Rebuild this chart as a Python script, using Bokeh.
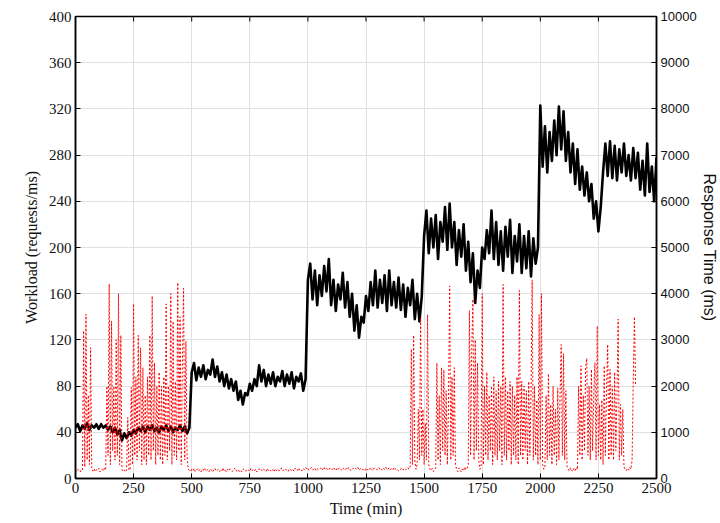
import math
import numpy as np
from bokeh.plotting import figure
from bokeh.models import Range1d, LinearAxis, FixedTicker
from bokeh.embed import file_html
from bokeh.resources import INLINE

# ---------------- data ----------------
x_ticks = [0, 250, 500, 750, 1000, 1250, 1500, 1750, 2000, 2250, 2500]
workload_ticks = [0, 40, 80, 120, 160, 200, 240, 280, 320, 360, 400]
response_ticks = [0, 1000, 2000, 3000, 4000, 5000, 6000, 7000, 8000, 9000, 10000]

# workload (requests/ms), one sample every 10 minutes, t = 0 .. 2500
workload_step_min = 10
workload = [
    44, 47, 41, 46, 43, 48, 42, 46, 44, 47,            # 0
    43, 47, 44, 46, 42, 45, 40, 44, 38, 42,            # 100
    33, 39, 35, 40, 37, 42, 39, 44, 41, 45,            # 200
    40, 45, 42, 46, 41, 44, 40, 45, 42, 46,            # 300
    41, 45, 40, 44, 42, 46, 41, 45, 39, 44,            # 400
    92, 100, 85, 96, 88, 98, 86, 94, 90, 103,          # 500
    88, 97, 84, 92, 80, 90, 78, 86, 76, 84,            # 600
    68, 76, 64, 74, 72, 82, 76, 86, 80, 98,            # 700
    84, 94, 80, 90, 82, 92, 80, 88, 84, 93,            # 800
    80, 90, 82, 92, 78, 88, 84, 91, 76, 86,            # 900
    172, 186, 155, 180, 150, 176, 158, 184, 162, 190,  # 1000
    150, 172, 145, 168, 155, 178, 148, 170, 140, 160,  # 1100
    128, 150, 122, 140, 135, 158, 145, 170, 150, 180,  # 1200
    148, 172, 152, 176, 145, 180, 150, 170, 148, 174,  # 1300
    146, 168, 140, 165, 150, 172, 138, 160, 136, 158,  # 1400
    210, 232, 195, 225, 200, 228, 190, 222, 205, 235,  # 1500
    198, 238, 200, 222, 185, 215, 192, 220, 180, 205,  # 1600
    170, 195, 152, 180, 165, 200, 190, 215, 195, 232,  # 1700
    190, 222, 185, 214, 180, 218, 192, 224, 178, 210,  # 1800
    188, 220, 178, 210, 182, 214, 175, 208, 186, 200,  # 1900
    323, 270, 305, 265, 300, 275, 310, 280, 322, 285,  # 2000
    318, 275, 300, 265, 290, 255, 285, 250, 270, 245,  # 2100
    265, 240, 255, 225, 240, 214, 235, 265, 290, 262,  # 2200
    292, 260, 288, 258, 285, 265, 290, 262, 280, 258,  # 2300
    286, 260, 282, 250, 275, 245, 290, 248, 270, 240,  # 2400
    278,                                               # 2500
]

# response time (ms), one sample every 5 minutes, t = 0 .. 2410
response_step_min = 5
response_ms = [
    180, 150, 200, 170, 140, 190, 180, 3200, 250, 3560,      # 0
    400, 1800, 300, 2830, 200, 160, 210, 150, 190, 170,      # 50
    220, 140, 180, 200, 160, 230, 200, 2000, 500, 4210,      # 100
    300, 3410, 600, 2000, 400, 3000, 500, 4000, 300, 3100,   # 150
    200, 150, 180, 140, 190, 1320, 180, 200, 1970, 300,      # 200
    3780, 500, 2200, 400, 3100, 600, 2830, 300, 2400, 400,   # 250
    1800, 300, 2200, 500, 3100, 400, 3950, 600, 2500, 300,   # 300
    2000, 500, 2300, 400, 2000, 300, 2200, 500, 3780, 400,   # 350
    2000, 600, 4000, 300, 3400, 500, 2100, 400, 4240, 600,   # 400
    3500, 300, 2500, 4120, 400, 2970, 500, 200, 180, 150,    # 450
    200, 170, 220, 150, 180, 210, 160, 190, 140, 200,        # 500
    180, 230, 160, 170, 200, 150, 210, 180, 140, 190,        # 550
    220, 160, 180, 200, 150, 190, 170, 230, 160, 180,        # 600
    140, 200, 170, 210, 180, 150, 190, 220, 160, 170,        # 650
    200, 150, 180, 140, 190, 210, 170, 160, 200, 180,        # 700
    150, 220, 170, 190, 160, 200, 140, 180, 210, 170,        # 750
    190, 160, 200, 180, 150, 220, 170, 190, 160, 200,        # 800
    180, 140, 210, 170, 200, 160, 190, 230, 170, 180,        # 850
    160, 200, 180, 150, 210, 190, 170, 200, 160, 220,        # 900
    190, 170, 230, 180, 200, 160, 210, 190, 240, 200,        # 950
    220, 180, 210, 240, 190, 200, 230, 170, 210, 190,        # 1000
    200, 230, 180, 210, 250, 190, 220, 200, 180, 230,        # 1050
    210, 190, 240, 200, 170, 220, 190, 230, 200, 180,        # 1100
    230, 200, 180, 220, 190, 240, 210, 170, 200, 220,        # 1150
    190, 220, 200, 240, 180, 210, 230, 190, 200, 170,        # 1200
    220, 180, 210, 190, 240, 200, 170, 230, 210, 190,        # 1250
    200, 240, 190, 210, 180, 220, 200, 250, 190, 210,        # 1300
    230, 190, 210, 180, 240, 200, 220, 190, 170, 210,        # 1350
    200, 230, 190, 210, 180, 220, 240, 200, 250, 2800,       # 1400
    300, 3100, 400, 200, 300, 1500, 400, 3480, 500, 1500,    # 1450
    300, 1200, 400, 3550, 300, 200, 170, 220, 150, 190,      # 1500
    230, 2500, 400, 1800, 300, 2400, 600, 2350, 500, 1900,   # 1550
    300, 1600, 4170, 400, 2200, 500, 2400, 300, 200, 150,    # 1600
    230, 180, 140, 210, 170, 250, 190, 220, 300, 3630,       # 1650
    500, 2800, 3880, 400, 3000, 600, 2500, 400, 200, 250,    # 1700
    4000, 300, 2000, 500, 2300, 400, 1800, 600, 2000, 300,   # 1750
    2200, 500, 1900, 400, 2100, 600, 2000, 300, 4200, 500,   # 1800
    2200, 400, 1900, 600, 2100, 300, 2000, 500, 1800, 400,   # 1850
    2200, 300, 4070, 500, 2100, 400, 2000, 600, 1900, 300,   # 1900
    2100, 500, 1800, 4300, 400, 2000, 500, 1700, 300, 3550,  # 1950
    400, 4000, 300, 200, 250, 1800, 400, 2270, 500, 1600,    # 2000
    300, 2000, 500, 1500, 300, 1960, 400, 1800, 2900, 500,   # 2050
    2700, 400, 1900, 250, 200, 160, 230, 180, 150, 220,      # 2100
    170, 240, 190, 2000, 500, 2440, 400, 1800, 600, 2400,    # 2150
    2600, 500, 2000, 400, 2360, 600, 1800, 2510, 400, 3300,  # 2200
    500, 1600, 400, 1700, 300, 2440, 500, 1900, 2900, 400,   # 2250
    2360, 500, 2000, 400, 2300, 600, 1800, 3450, 400, 1600,  # 2300
    500, 1500, 250, 200, 170, 220, 180, 240, 200, 400,       # 2350
    2100, 3500, 2000,                                        # 2400
]

workload_t = np.arange(len(workload)) * workload_step_min
response_t = np.arange(len(response_ms)) * response_step_min

# ---------------- figure ----------------
SERIF = "Liberation Serif"
SANS = "Liberation Sans"
TXT = "#111111"

p = figure(width=720, height=523,
           x_range=Range1d(0, 2500), y_range=Range1d(0, 400),
           output_backend="svg", toolbar_location=None,
           min_border_left=75, min_border_right=59,
           min_border_top=16, min_border_bottom=45)
p.extra_y_ranges = {"rt": Range1d(0, 10000)}
p.background_fill_color = "white"
p.border_fill_color = "white"
p.outline_line_color = "black"
p.outline_line_width = 1.5

xt = FixedTicker(ticks=x_ticks)
yt = FixedTicker(ticks=workload_ticks)

p.xgrid.ticker = xt
p.ygrid.ticker = yt
p.xgrid.grid_line_color = "#e0e0e0"
p.ygrid.grid_line_color = "#e0e0e0"
p.xgrid.grid_line_width = 1
p.ygrid.grid_line_width = 1

# bottom axis
xa = p.xaxis[0]
xa.ticker = xt
xa.axis_label = "Time (min)"
xa.axis_label_text_font = SERIF
xa.axis_label_text_font_size = "16px"
xa.axis_label_text_font_style = "normal"
xa.axis_label_text_color = TXT
xa.axis_label_standoff = 4
xa.major_label_text_font = SERIF
xa.major_label_text_font_size = "15px"
xa.major_label_text_color = TXT
xa.major_label_standoff = 4
xa.major_tick_in = 5
xa.major_tick_out = 0
xa.minor_tick_in = 0
xa.minor_tick_out = 0
xa.axis_line_color = "black"
xa.axis_line_width = 1.5

# left axis
ya = p.yaxis[0]
ya.ticker = yt
ya.axis_label = "Workload (requests/ms)"
ya.axis_label_text_font = SERIF
ya.axis_label_text_font_size = "16px"
ya.axis_label_text_font_style = "normal"
ya.axis_label_text_color = TXT
ya.axis_label_standoff = 6
ya.major_label_text_font = SERIF
ya.major_label_text_font_size = "15px"
ya.major_label_text_color = TXT
ya.major_label_standoff = 4
ya.major_tick_in = 5
ya.major_tick_out = 0
ya.minor_tick_in = 0
ya.minor_tick_out = 0
ya.axis_line_color = "black"
ya.axis_line_width = 1.5

# right axis (response time)
ra = LinearAxis(y_range_name="rt", ticker=FixedTicker(ticks=response_ticks))
ra.axis_label = "Response Time (ms)"
ra.axis_label_text_font = SANS
ra.axis_label_text_font_size = "16px"
ra.axis_label_text_font_style = "normal"
ra.axis_label_text_color = TXT
ra.axis_label_standoff = 1
ra.major_label_text_font = SANS
ra.major_label_text_font_size = "13px"
ra.major_label_text_color = TXT
ra.major_label_standoff = 4
ra.major_tick_in = 5
ra.major_tick_out = 0
ra.minor_tick_in = 0
ra.minor_tick_out = 0
ra.axis_line_color = "black"
ra.axis_line_width = 1.5
p.add_layout(ra, "right")

# inward tick marks along the top edge of the box
p.ray(x=x_ticks, y=[workload_ticks[-1]] * len(x_ticks), length=5,
      length_units="screen", angle=-math.pi / 2, line_color="black", line_width=1)

# series
p.line(workload_t, workload, line_color="black", line_width=2.6, line_join="round")
p.line(response_t, response_ms, y_range_name="rt", line_color="#ff0000",
       line_width=1, line_dash="2 2")

open("out.html", "w").write(file_html(p, INLINE))
